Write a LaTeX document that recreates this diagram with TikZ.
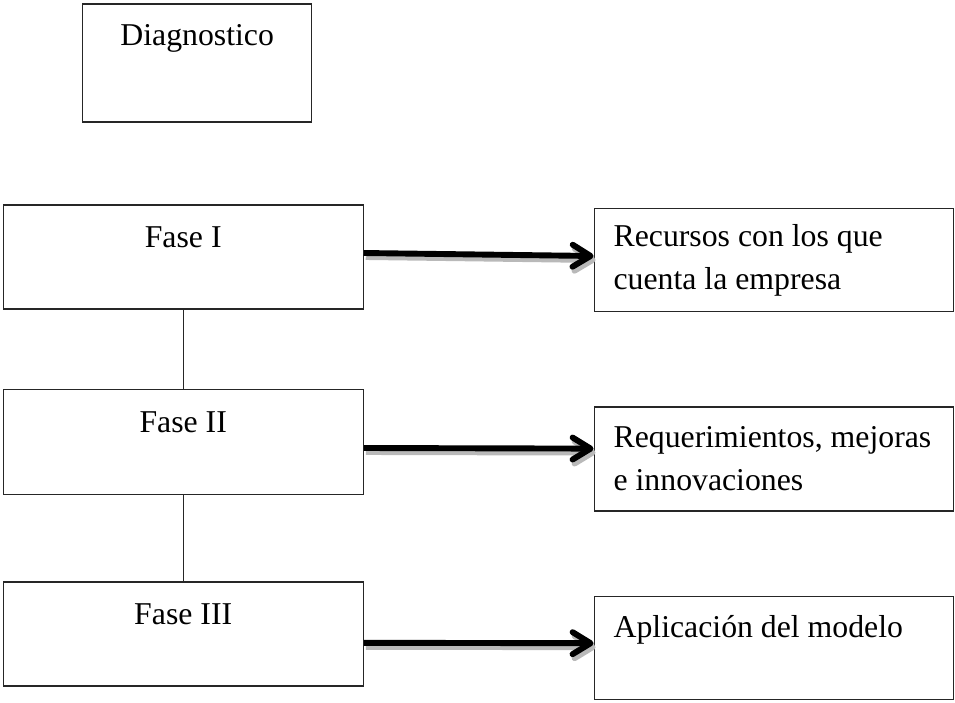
\documentclass[tikz,border=0pt]{standalone}
\usepackage{fontspec}
\setmainfont{Liberation Serif}
\usetikzlibrary{arrows.meta}

\begin{document}
\begin{tikzpicture}[
  box/.style={draw=black!85, line width=0.8pt, minimum width=9.0cm,
              minimum height=2.6cm, text height=0.575cm, text depth=1.075cm,
              font=\fontsize{22.6}{30.6}\selectfont},
  result/.style={draw=black!85, line width=0.8pt, minimum width=8.975cm,
                 minimum height=2.6cm, text width=8.0cm, inner xsep=0.4875cm,
                 align=flush left, font=\fontsize{22.6}{30.6}\selectfont},
  link/.style={draw=black!85, line width=0.8pt},
  arrow/.style={line width=4.2pt, -{Straight Barb[length=0.45cm, width=0.55cm, round]}},
  arrowshade/.style={arrow, draw=gray!55, transform canvas={shift={(0.05cm,-0.1cm)}}},
]
  \useasboundingbox (0,0) rectangle (23.875,-17.55);

  % Stages
  \node[box, minimum width=5.73cm, minimum height=2.95cm, text depth=1.475cm] (diag) at (4.93, -1.575) {Diagnostico};
  \node[box] (f1) at (4.58, -6.425) {Fase I};
  \node[box, minimum height=2.625cm] (f2) at (4.58, -11.06) {Fase II};
  \node[box] (f3) at (4.58, -15.85) {Fase III};

  % Results (right)
  \node[result, minimum height=2.575cm] (r1) at (19.34, -6.51) {Recursos con los que\\cuenta la empresa};
  \node[result] (r2) at (19.34, -11.475) {Requerimientos,~mejoras\\e innovaciones};
  \node[result, minimum height=2.575cm, text height=0.575cm, text depth=1.1cm] (r3) at (19.34, -16.19) {Aplicación del modelo};

  % Links between stages
  \draw[link] (f1) -- (f2);
  \draw[link] (f2) -- (f3);

  % Arrows to results (gray shade first)
  \draw[arrowshade] ([yshift=0.1cm]f1.east) -- ([yshift=0.11cm]r1.west);
  \draw[arrowshade] ([yshift=-0.14cm]f2.east) -- ([yshift=0.26cm]r2.west);
  \draw[arrowshade] ([yshift=-0.22cm]f3.east) -- ([yshift=0.11cm]r3.west);
  \draw[arrow] ([yshift=0.1cm]f1.east) -- ([yshift=0.11cm]r1.west);
  \draw[arrow] ([yshift=-0.14cm]f2.east) -- ([yshift=0.26cm]r2.west);
  \draw[arrow] ([yshift=-0.22cm]f3.east) -- ([yshift=0.11cm]r3.west);
\end{tikzpicture}
\end{document}
